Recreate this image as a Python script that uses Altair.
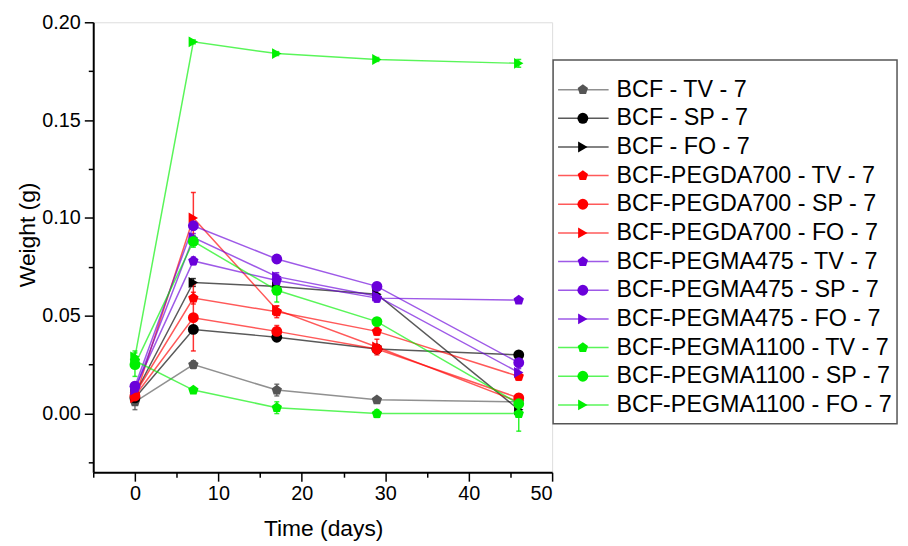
import altair as alt
import pandas as pd

days = [0, 7, 17, 29, 46]

series = [
    "BCF - TV - 7", "BCF - SP - 7", "BCF - FO - 7",
    "BCF-PEGDA700 - TV - 7", "BCF-PEGDA700 - SP - 7", "BCF-PEGDA700 - FO - 7",
    "BCF-PEGMA475 - TV - 7", "BCF-PEGMA475 - SP - 7", "BCF-PEGMA475 - FO - 7",
    "BCF-PEGMA1100 - TV - 7", "BCF-PEGMA1100 - SP - 7", "BCF-PEGMA1100 - FO - 7",
]

bcf_tv = [0.006, 0.025, 0.012, 0.007, 0.006]
bcf_sp = [0.008, 0.043, 0.039, 0.033, 0.030]
bcf_fo = [0.010, 0.067, 0.065, 0.061, 0.002]
pegda_tv = [0.010, 0.059, 0.052, 0.042, 0.019]
pegda_sp = [0.009, 0.049, 0.042, 0.033, 0.008]
pegda_fo = [0.008, 0.100, 0.053, 0.034, 0.006]
pegma475_tv = [0.013, 0.078, 0.068, 0.059, 0.058]
pegma475_sp = [0.014, 0.096, 0.079, 0.065, 0.026]
pegma475_fo = [0.012, 0.090, 0.070, 0.060, 0.021]
pegma1100_tv = [0.027, 0.012, 0.003, 0.000, 0.000]
pegma1100_sp = [0.025, 0.088, 0.063, 0.047, 0.005]
pegma1100_fo = [0.029, 0.190, 0.184, 0.181, 0.179]

bcf_tv_err = [0.004, 0.002, 0.003, 0.001, 0.001]
bcf_sp_err = [0.003, 0.002, 0.002, 0.002, 0.001]
bcf_fo_err = [0.003, 0.002, 0.002, 0.002, 0.001]
pegda_tv_err = [0.002, 0.003, 0.003, 0.002, 0.002]
pegda_sp_err = [0.002, 0.017, 0.003, 0.002, 0.002]
pegda_fo_err = [0.002, 0.013, 0.002, 0.004, 0.002]
pegma475_tv_err = [0.002, 0.002, 0.003, 0.002, 0.001]
pegma475_sp_err = [0.002, 0.002, 0.002, 0.002, 0.002]
pegma475_fo_err = [0.002, 0.002, 0.002, 0.003, 0.002]
pegma1100_tv_err = [0.002, 0.001, 0.003, 0.002, 0.009]
pegma1100_sp_err = [0.006, 0.003, 0.006, 0.002, 0.002]
pegma1100_fo_err = [0.003, 0.001, 0.001, 0.001, 0.002]

values = [bcf_tv, bcf_sp, bcf_fo, pegda_tv, pegda_sp, pegda_fo,
          pegma475_tv, pegma475_sp, pegma475_fo, pegma1100_tv, pegma1100_sp, pegma1100_fo]
errors = [bcf_tv_err, bcf_sp_err, bcf_fo_err, pegda_tv_err, pegda_sp_err, pegda_fo_err,
          pegma475_tv_err, pegma475_sp_err, pegma475_fo_err,
          pegma1100_tv_err, pegma1100_sp_err, pegma1100_fo_err]

colors = ["#555555", "#000000", "#000000",
          "#FF0000", "#FF0000", "#FF0000",
          "#6A00DA", "#6A00DA", "#6A00DA",
          "#00F000", "#00F000", "#00F000"]

pent = "M0,-1L0.951,-0.309L0.588,0.809L-0.588,0.809L-0.951,-0.309Z"
shapes = [pent, "circle", "triangle-right"] * 4

x_ticks = [-5, 0, 5, 10, 15, 20, 25, 30, 35, 40, 45, 50]
y_ticks = [-0.025, 0.0, 0.025, 0.05, 0.075, 0.1, 0.125, 0.15, 0.175, 0.2]

rows = []
for s, vals, errs in zip(series, values, errors):
    for d, v, e in zip(days, vals, errs):
        rows.append({"series": s, "day": d, "w": v, "lo": v - e, "hi": v + e})
df = pd.DataFrame(rows)
leg = pd.DataFrame({"series": series})

FONT = "Liberation Sans"

color_scale = alt.Scale(domain=series, range=colors)
shape_scale = alt.Scale(domain=series, range=shapes)

x_axis = alt.Axis(
    values=x_ticks, title="Time (days)",
    labelExpr="datum.value % 10 === 0 ? datum.label : ''",
    tickSize={"condition": {"test": "datum.value % 10 === 0", "value": 9}, "value": 5},
    labelPadding=3, labelFontSize=20, labelFont=FONT, labelColor="black",
    titleFontSize=23, titleFont=FONT, titleFontWeight="normal", titleColor="black",
    titleX=232, titleY=64, titleBaseline="alphabetic", titleAnchor="middle", titleAlign="center",
    domainColor="black", domainWidth=2, tickColor="black", tickWidth=1.5,
    grid=False, labelOverlap=False,
)
y_axis = alt.Axis(
    values=y_ticks, title="Weight (g)",
    labelExpr="abs(round(datum.value*1000)) % 50 === 0 ? format(datum.value, '.2f') : ''",
    tickSize={"condition": {"test": "abs(round(datum.value*1000)) % 50 === 0", "value": 9}, "value": 5},
    labelPadding=4, labelFontSize=20, labelFont=FONT, labelColor="black",
    titleFontSize=23, titleFont=FONT, titleFontWeight="normal", titleColor="black",
    titleX=-59, titleY=214, titleBaseline="alphabetic", titleAngle=270, titleAlign="center",
    domainColor="black", domainWidth=2, tickColor="black", tickWidth=1.5,
    grid=False, labelOverlap=False,
)
x_scale = alt.Scale(domain=[-5, 50], nice=False, zero=False)
y_scale = alt.Scale(domain=[-0.03, 0.2], nice=False, zero=False)

base = alt.Chart(df)

lines = base.mark_line(strokeWidth=1.5, opacity=0.65).encode(
    x=alt.X("day:Q", scale=x_scale, axis=x_axis),
    y=alt.Y("w:Q", scale=y_scale, axis=y_axis),
    color=alt.Color("series:N", scale=color_scale, legend=None),
    detail="series:N",
)
errs = base.mark_errorbar(ticks=True, thickness=1.5, opacity=0.8).encode(
    x=alt.X("day:Q", scale=x_scale, axis=x_axis),
    y=alt.Y("lo:Q", scale=y_scale, axis=y_axis),
    y2="hi:Q",
    color=alt.Color("series:N", scale=color_scale, legend=None),
)
pts = base.mark_point(filled=True, size=120, opacity=1).encode(
    x=alt.X("day:Q", scale=x_scale, axis=x_axis),
    y=alt.Y("w:Q", scale=y_scale, axis=y_axis),
    color=alt.Color("series:N", scale=color_scale, legend=None),
    shape=alt.Shape("series:N", scale=shape_scale, legend=None),
)
main = alt.layer(lines, errs, pts)

# point scale keeps 0.5 step of outer padding: range widened so rows sit at 68..386
leg_y = alt.Y("series:N", scale=alt.Scale(domain=series, range=[53.5, 400.5]), axis=None)

box = alt.Chart(alt.Data(values=[{"a": 1}])).mark_rect(
    fill="white", stroke="#555555", strokeWidth=1.5
).encode(x=alt.value(464), x2=alt.value(811), y=alt.value(38), y2=alt.value(405))

leg_rule = alt.Chart(leg).mark_rule(strokeWidth=1.5, opacity=0.65).encode(
    x=alt.value(469), x2=alt.value(520), y=leg_y,
    color=alt.Color("series:N", scale=color_scale, legend=None),
)
leg_pts = alt.Chart(leg).mark_point(filled=True, size=120, opacity=1).encode(
    x=alt.value(494), y=leg_y,
    color=alt.Color("series:N", scale=color_scale, legend=None),
    shape=alt.Shape("series:N", scale=shape_scale, legend=None),
)
leg_text = alt.Chart(leg).mark_text(
    align="left", baseline="middle", fontSize=23.5, font=FONT, color="black"
).encode(x=alt.value(528), y=leg_y, text="series:N")

legend = alt.layer(box, leg_rule, leg_pts, leg_text)

chart = alt.layer(main, legend).resolve_scale(y="independent").properties(
    width=463, height=454,
    autosize=alt.AutoSizeParams(type="none"),
    padding={"left": 86, "top": 12, "right": 351, "bottom": 72},
).configure_view(stroke=None).configure(background="white")

chart.save("out.html", embed_options={"renderer": "svg", "actions": False})
